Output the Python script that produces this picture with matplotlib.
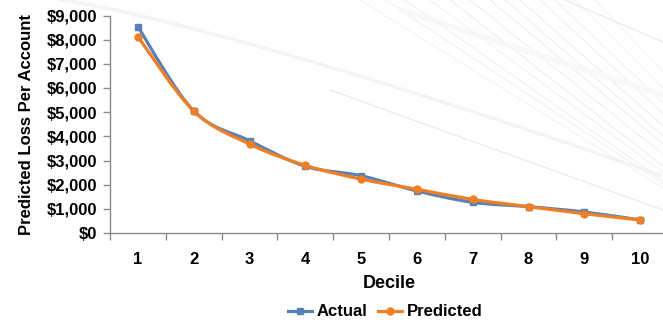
import matplotlib
matplotlib.use("Agg")
import matplotlib.pyplot as plt
import numpy as np
from matplotlib.path import Path
from matplotlib.patches import PathPatch
from matplotlib.lines import Line2D
from matplotlib.ticker import FuncFormatter, FixedLocator, NullFormatter

plt.rcParams['font.family'] = ['Liberation Sans', 'DejaVu Sans']
plt.rcParams['font.weight'] = 'bold'

deciles = [1, 2, 3, 4, 5, 6, 7, 8, 9, 10]
actual = [8530, 5050, 3820, 2760, 2370, 1740, 1270, 1090, 870, 540]
predicted = [8120, 5050, 3680, 2800, 2230, 1810, 1390, 1090, 800, 540]

blue = '#5A80B8'
orange = '#F07F24'
axis_grey = '#8C8C8C'

W, H = 663, 322
fig = plt.figure(figsize=(W / 100, H / 100), dpi=100)

# faint decorative background strokes
bg = fig.add_axes([0, 0, 1, 1], zorder=0)
bg.set_xlim(0, W)
bg.set_ylim(H, 0)
bg.axis('off')
t = np.linspace(0, 1, 60)
bg.plot(60 + t * 600, 0 + 175 * t ** 1.2, color='#F4F4F4', lw=2.5)
for x0, slope, a in [(360, 0.62, 0.5), (385, 0.66, 0.6), (405, 0.70, 0.7), (430, 0.74, 0.6),
                     (450, 0.78, 0.8), (470, 0.80, 0.7), (490, 0.83, 0.8), (505, 0.86, 0.7),
                     (520, 0.88, 0.8), (540, 0.92, 0.7), (555, 0.95, 0.6), (575, 1.0, 0.6),
                     (595, 1.05, 0.5)]:
    bg.plot([x0, W], [0, (W - x0) * slope], color='#EAEAEA', lw=0.8, alpha=a)
bg.plot([330, W], [90, 210], color='#EBEBEB', lw=1.0)
bg.plot([565, W], [0, 42], color='#EBEBEB', lw=1.0)
bg.plot([400, W], [10, 95], color='#F7F7F7', lw=4, alpha=0.8)

left, right, top, bottom = 110, 668, 15.5, 233
ax = fig.add_axes([left / W, (H - bottom) / H, (right - left) / W, (bottom - top) / H], zorder=1)
ax.patch.set_alpha(0)


def smooth_path(xs, ys):
    pts = np.column_stack([xs, ys]).astype(float)
    n = len(pts)
    verts = [pts[0]]
    codes = [Path.MOVETO]
    for i in range(n - 1):
        p0 = pts[i - 1] if i > 0 else pts[i]
        p1 = pts[i]
        p2 = pts[i + 1]
        p3 = pts[i + 2] if i + 2 < n else pts[i + 1]
        c1 = p1 + (p2 - p0) / 6.0
        c2 = p2 - (p3 - p1) / 6.0
        verts += [c1, c2, p2]
        codes += [Path.CURVE4] * 3
    return Path(verts, codes)


for vals, col, mk, ms in [(actual, blue, 's', 4.5), (predicted, orange, 'o', 5)]:
    ax.add_patch(PathPatch(smooth_path(deciles, vals), fill=False, edgecolor=col,
                           lw=2.3, capstyle='round', joinstyle='round'))
    ax.plot(deciles, vals, linestyle='none', marker=mk, ms=ms, color=col)

ax.set_xlim(0.5, 10.5)
ax.set_ylim(0, 9000)
ax.set_yticks(np.arange(0, 9001, 1000))
ax.yaxis.set_major_formatter(FuncFormatter(lambda v, p: f"${v:,.0f}"))
ax.xaxis.set_major_locator(FixedLocator(np.arange(0.5, 11, 1)))
ax.xaxis.set_major_formatter(NullFormatter())
ax.xaxis.set_minor_locator(FixedLocator(deciles))
ax.set_xticklabels([str(d) for d in deciles], minor=True)
ax.tick_params(axis='x', which='major', length=5, width=1, color=axis_grey, direction='out')
ax.tick_params(axis='x', which='minor', length=0, pad=14, labelsize=12)
ax.tick_params(axis='y', length=5, width=1, color=axis_grey, direction='out', labelsize=12, pad=4)
for s in ['top', 'right']:
    ax.spines[s].set_visible(False)
for s in ['left', 'bottom']:
    ax.spines[s].set_color(axis_grey)
    ax.spines[s].set_linewidth(1.0)

ax.set_ylabel('Predicted Loss Per Account', fontsize=12, fontweight='bold', labelpad=9)
fig.text(389 / W, (H - 283) / H, 'Decile', ha='center', va='center', fontsize=13, fontweight='bold')

handles = [Line2D([], [], color=blue, lw=2.3, marker='s', ms=4.5),
           Line2D([], [], color=orange, lw=2.3, marker='o', ms=5)]
fig.legend(handles, ['Actual', 'Predicted'], loc='center', bbox_to_anchor=(385 / W, (H - 312) / H),
           ncol=2, frameon=False, fontsize=12, handlelength=1.45, handletextpad=0.3,
           columnspacing=0.6, borderpad=0)

fig.savefig('out.png', dpi=100)
